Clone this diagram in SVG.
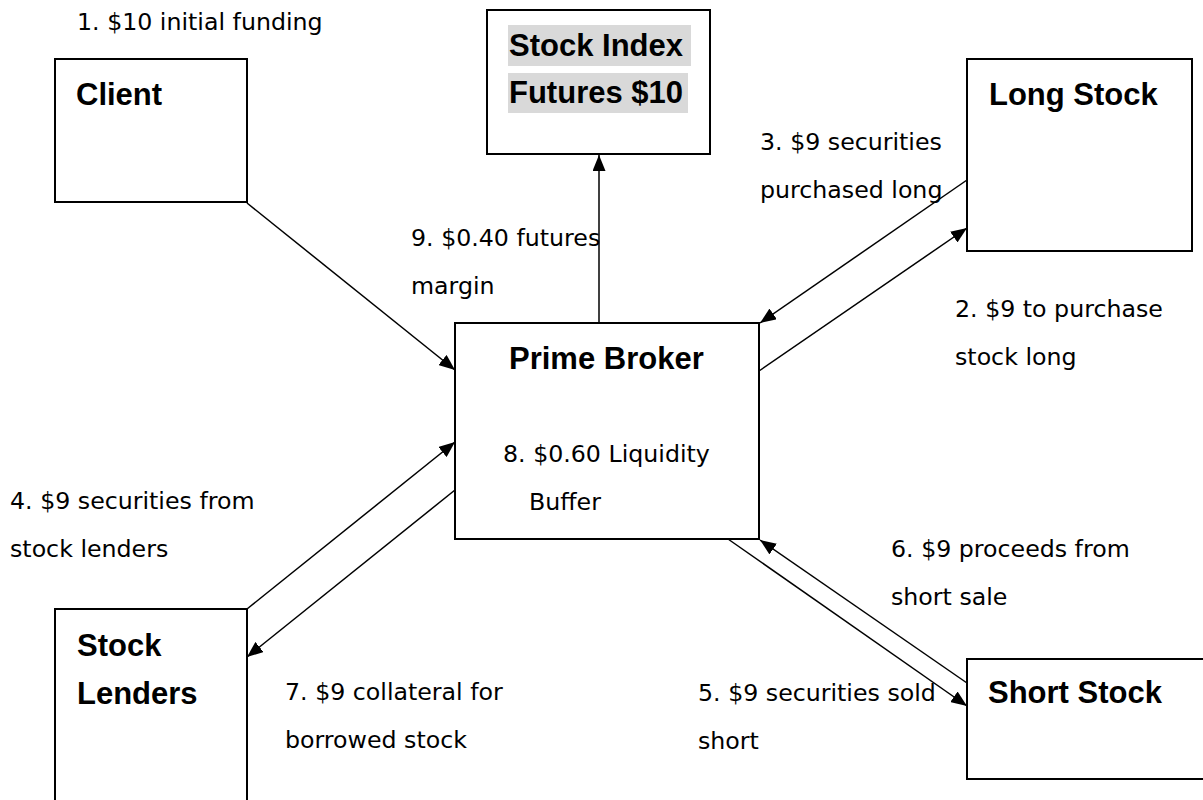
<svg xmlns="http://www.w3.org/2000/svg" width="1203" height="800" viewBox="0 0 1203 800">
<style>
.box{fill:#fff;stroke:#000;stroke-width:2}
.t{font-family:"Liberation Sans",Arial,sans-serif;font-weight:bold;font-size:31px;fill:#000}
.l{font-family:"DejaVu Sans",Verdana,sans-serif;font-size:23.7px;fill:#000}
.c{stroke:#000;stroke-width:1.5;fill:none;marker-end:url(#ah)}
.hl{fill:#d9d9d9}
</style>
<defs>
<marker id="ah" markerUnits="userSpaceOnUse" markerWidth="17" markerHeight="13" refX="16" refY="6.5" orient="auto">
<path d="M0,0 L16,6.5 L0,13 z" fill="#000"/>
</marker>
</defs>
<rect width="1203" height="800" fill="#fff"/>
<g id="connectors">
<line class="c" x1="247" y1="203" x2="455" y2="370"/>
<line class="c" x1="599" y1="323" x2="599" y2="155"/>
<line class="c" x1="967" y1="180" x2="760" y2="323"/>
<line class="c" x1="759" y1="371" x2="967" y2="228"/>
<line class="c" x1="247" y1="609" x2="455" y2="442"/>
<line class="c" x1="455" y1="490" x2="247" y2="657"/>
<line class="c" x1="728" y1="539" x2="967" y2="706"/>
<line class="c" x1="967" y1="683" x2="760" y2="540"/>
</g>
<g id="client">
<rect class="box" x="55" y="59" width="192" height="143"/>
<text class="t" x="76" y="105">Client</text>
</g>
<g id="stock-index-futures">
<rect class="box" x="487" y="10" width="223" height="144"/>
<rect class="hl" x="508" y="25" width="183" height="41"/>
<rect class="hl" x="508" y="73" width="180" height="40"/>
<text class="t" x="509" y="56">Stock Index</text>
<text class="t" x="509" y="103">Futures $10</text>
</g>
<g id="long-stock">
<rect class="box" x="967" y="59" width="225" height="192"/>
<text class="t" x="989" y="105">Long Stock</text>
</g>
<g id="prime-broker">
<rect class="box" x="455" y="323" width="304" height="216"/>
<text class="t" x="509" y="369">Prime Broker</text>
<text class="l" x="503" y="462">8. $0.60 Liquidity</text>
<text class="l" x="529" y="510">Buffer</text>
</g>
<g id="stock-lenders">
<rect class="box" x="55" y="609" width="192" height="200"/>
<text class="t" x="77" y="656">Stock</text>
<text class="t" x="77" y="704">Lenders</text>
</g>
<g id="short-stock">
<rect class="box" x="967" y="659" width="245" height="120"/>
<text class="t" x="988" y="703">Short Stock</text>
</g>
<g id="labels">
<text class="l" x="77" y="30">1. $10 initial funding</text>
<text class="l" x="760" y="150">3. $9 securities</text>
<text class="l" x="760" y="198">purchased long</text>
<text class="l" x="411" y="246">9. $0.40 futures</text>
<text class="l" x="411" y="294">margin</text>
<text class="l" x="955" y="317">2. $9 to purchase</text>
<text class="l" x="955" y="365">stock long</text>
<text class="l" x="10" y="509">4. $9 securities from</text>
<text class="l" x="10" y="557">stock lenders</text>
<text class="l" x="891" y="557">6. $9 proceeds from</text>
<text class="l" x="891" y="605">short sale</text>
<text class="l" x="285" y="700">7. $9 collateral for</text>
<text class="l" x="285" y="748">borrowed stock</text>
<text class="l" x="698" y="701">5. $9 securities sold</text>
<text class="l" x="698" y="749">short</text>
</g>
</svg>
